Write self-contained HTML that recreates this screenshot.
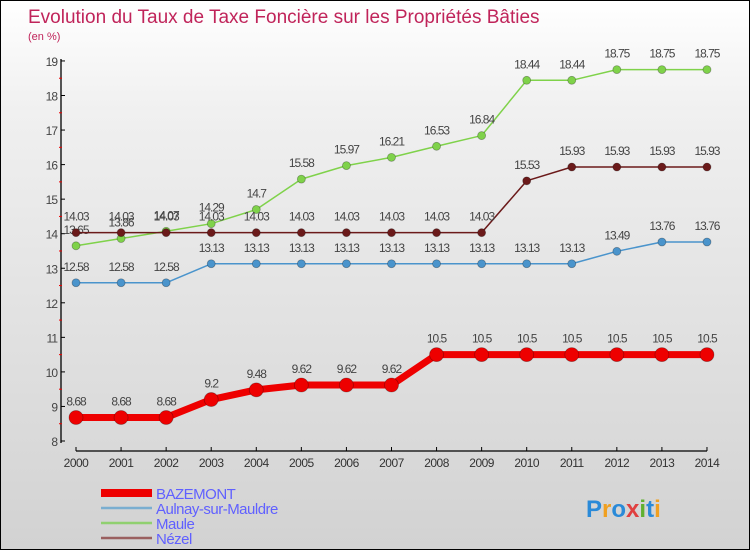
<!DOCTYPE html>
<html><head><meta charset="utf-8"><style>
body{margin:0}
#wrap{position:relative;width:748px;height:548px;border:1px solid #000;background:linear-gradient(#ffffff,#f0f0f0 20%,#d2d2d2);font-family:"Liberation Sans",sans-serif;overflow:hidden}
svg{position:absolute;left:0;top:0}
</style></head><body>
<div id="wrap">
<svg id="c" width="750" height="550"></svg>
</div>
<script>
const years=[2000,2001,2002,2003,2004,2005,2006,2007,2008,2009,2010,2011,2012,2013,2014];
const bazemont=[8.68,8.68,8.68,9.2,9.48,9.62,9.62,9.62,10.5,10.5,10.5,10.5,10.5,10.5,10.5];
const aulnay=[12.58,12.58,12.58,13.13,13.13,13.13,13.13,13.13,13.13,13.13,13.13,13.13,13.49,13.76,13.76];
const maule=[13.65,13.86,14.07,14.29,14.7,15.58,15.97,16.21,16.53,16.84,18.44,18.44,18.75,18.75,18.75];
const nezel=[14.03,14.03,14.03,14.03,14.03,14.03,14.03,14.03,14.03,14.03,15.53,15.93,15.93,15.93,15.93];
const yTicks=[8,9,10,11,12,13,14,15,16,17,18,19];
const seriesNames=["BAZEMONT","Aulnay-sur-Mauldre","Maule","Nézel"];
const NS="http://www.w3.org/2000/svg";
const svg=document.getElementById('c');
const X=i=>75+i*45.07;
const Y=v=>440-(v-8)*34.55;
function el(t,a,p){const e=document.createElementNS(NS,t);for(const k in a)e.setAttribute(k,a[k]);(p||svg).appendChild(e);return e;}
function txt(x,y,s,a){const e=el('text',Object.assign({x:x,y:y},a));e.textContent=s;return e;}
let t=txt(27,22,"Evolution du Taux de Taxe Foncière sur les Propriétés Bâties",{fill:"#c0245a","font-size":"19"});

t=txt(27,39,"(en %)",{fill:"#c0245a","font-size":"11"});

let a=el('line',{x1:60,y1:58,x2:60,y2:442,stroke:"#000","stroke-width":1.3});

a=el('line',{x1:75,y1:450,x2:706,y2:450,stroke:"#000","stroke-width":1.3});

yTicks.forEach(v=>{
 el('line',{x1:60,y1:Y(v),x2:64,y2:Y(v),stroke:"#000"});
 if(v<19) el('line',{x1:58,y1:Y(v+0.5),x2:61,y2:Y(v+0.5),stroke:"#e00"});
 const l=txt(56,Y(v)+5,String(v),{fill:"#444","font-size":"12","text-anchor":"end","letter-spacing":"-1"});
 
});
years.forEach((y,i)=>{
 el('line',{x1:X(i),y1:446,x2:X(i),y2:450,stroke:"#000"});
 const l=txt(X(i),466,String(y),{fill:"#333","font-size":"12","text-anchor":"middle","letter-spacing":"-0.5"});
 
});
function series(data,color,w,r,name){
 const g=el('g',{});
 
 el('polyline',{points:data.map((v,i)=>X(i)+","+Y(v)).join(" "),fill:"none",stroke:color,"stroke-width":w,"stroke-linejoin":"round"},g);
 data.forEach((v,i)=>{
  const c=el('circle',{cx:X(i),cy:Y(v),r:r,fill:color,stroke:"rgba(0,0,0,0.3)","stroke-width":0.8},g);
  
  const l=txt(X(i),Y(v)-12,String(v),{fill:"#444","font-size":"12","text-anchor":"middle","letter-spacing":"-1"},g);
  
 });
}
series(aulnay,"#4a94cc",1.5,4,"series-aulnay");
series(maule,"#7fd24a",1.5,4,"series-maule");
series(nezel,"#6b1a1a",1.5,4,"series-nezel");
series(bazemont,"#ee0000",7,7,"series-bazemont");
const lc=["#ee0000","#7aaed0","#90d070","#9a6060"],lw=[8,2.5,2.5,2.5];
seriesNames.forEach((n,i)=>{
 const g=el('g',{});
 
 const yy=492+i*15;
 el('line',{x1:100,y1:yy,x2:151,y2:yy,stroke:lc[i],"stroke-width":lw[i]},g);
 txt(155,yy+6,n,{fill:"#6060ff","font-size":"15","letter-spacing":"-0.5"},g);
});
const lg=el('text',{x:585,y:516,"font-size":"24","font-weight":"bold"});

[["P","#2a8ad8"],["r","#f0a020"],["o","#2a8ad8"],["x","#e04040"],["i","#60b030"],["t","#2a8ad8"],["i","#f0a020"]].forEach(([c,f])=>{const s=el('tspan',{fill:f},lg);s.textContent=c;});
</script>
</body></html>
